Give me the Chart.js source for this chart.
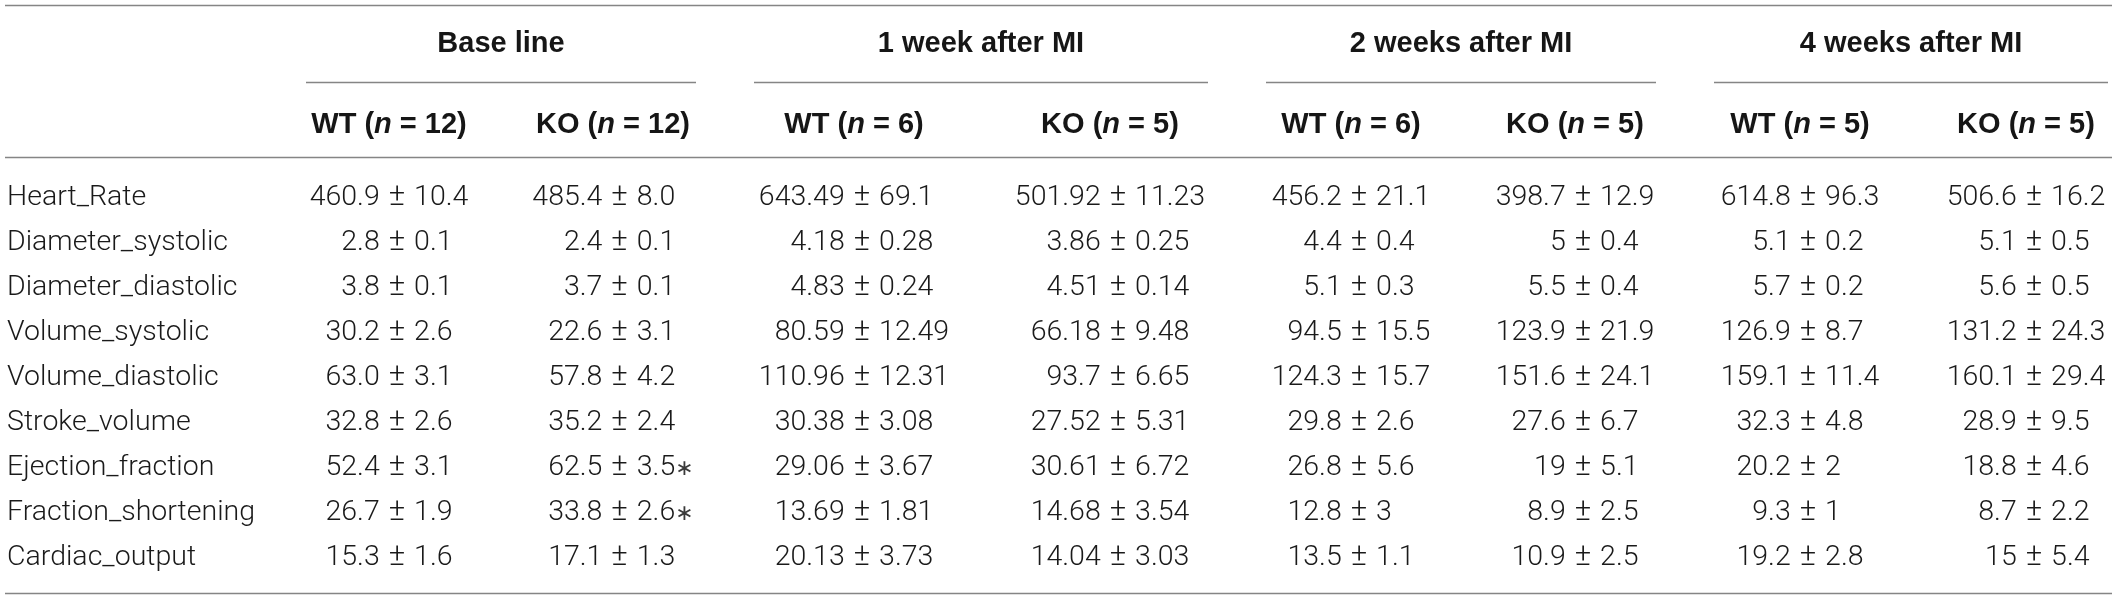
<!DOCTYPE html>
<html>
<head>
<meta charset="utf-8">
<title>Echocardiography WT vs KO after MI</title>
<script src="https://cdn.jsdelivr.net/npm/chart.js@4.4.1/dist/chart.umd.min.js"></script>
<style>
  html, body { margin: 0; padding: 0; background: #fff; }
  #tablechartcontainer { width: 2118px; height: 597px; }
</style>
</head>
<body>
<div id="tablechartcontainer"><canvas id="tablechart" width="2118" height="597"></canvas></div>
<script>
// row and column names
var rowLabels = ["Heart_Rate", "Diameter_systolic", "Diameter_diastolic", "Volume_systolic",
  "Volume_diastolic", "Stroke_volume", "Ejection_fraction", "Fraction_shortening", "Cardiac_output"];
var periods = ["Base line", "1 week after MI", "2 weeks after MI", "4 weeks after MI"];
var genotypes = ["WT", "KO"];
var nWT = [12, 6, 6, 5];
var nKO = [12, 5, 5, 5];

// mean and sd per column (kept as text so trailing zeros survive)
var baseWTMean = ["460.9", "2.8", "3.8", "30.2", "63.0", "32.8", "52.4", "26.7", "15.3"];
var baseWTSd   = ["10.4", "0.1", "0.1", "2.6", "3.1", "2.6", "3.1", "1.9", "1.6"];
var baseKOMean = ["485.4", "2.4", "3.7", "22.6", "57.8", "35.2", "62.5", "33.8", "17.1"];
var baseKOSd   = ["8.0", "0.1", "0.1", "3.1", "4.2", "2.4", "3.5", "2.6", "1.3"];
var baseKOSig  = ["", "", "", "", "", "", "\u2217", "\u2217", ""];

var wk1WTMean = ["643.49", "4.18", "4.83", "80.59", "110.96", "30.38", "29.06", "13.69", "20.13"];
var wk1WTSd   = ["69.1", "0.28", "0.24", "12.49", "12.31", "3.08", "3.67", "1.81", "3.73"];
var wk1KOMean = ["501.92", "3.86", "4.51", "66.18", "93.7", "27.52", "30.61", "14.68", "14.04"];
var wk1KOSd   = ["11.23", "0.25", "0.14", "9.48", "6.65", "5.31", "6.72", "3.54", "3.03"];

var wk2WTMean = ["456.2", "4.4", "5.1", "94.5", "124.3", "29.8", "26.8", "12.8", "13.5"];
var wk2WTSd   = ["21.1", "0.4", "0.3", "15.5", "15.7", "2.6", "5.6", "3", "1.1"];
var wk2KOMean = ["398.7", "5", "5.5", "123.9", "151.6", "27.6", "19", "8.9", "10.9"];
var wk2KOSd   = ["12.9", "0.4", "0.4", "21.9", "24.1", "6.7", "5.1", "2.5", "2.5"];

var wk4WTMean = ["614.8", "5.1", "5.7", "126.9", "159.1", "32.3", "20.2", "9.3", "19.2"];
var wk4WTSd   = ["96.3", "0.2", "0.2", "8.7", "11.4", "4.8", "2", "1", "2.8"];
var wk4KOMean = ["506.6", "5.1", "5.6", "131.2", "160.1", "28.9", "18.8", "8.7", "15"];
var wk4KOSd   = ["16.2", "0.5", "0.5", "24.3", "29.4", "9.5", "4.6", "2.2", "5.4"];

var columns = [
  { mean: baseWTMean, sd: baseWTSd, sig: null },
  { mean: baseKOMean, sd: baseKOSd, sig: baseKOSig },
  { mean: wk1WTMean, sd: wk1WTSd, sig: null },
  { mean: wk1KOMean, sd: wk1KOSd, sig: null },
  { mean: wk2WTMean, sd: wk2WTSd, sig: null },
  { mean: wk2KOMean, sd: wk2KOSd, sig: null },
  { mean: wk4WTMean, sd: wk4WTSd, sig: null },
  { mean: wk4KOMean, sd: wk4KOSd, sig: null }
];

// layout: column widths (label column first) in table units, row positions in row units
var colWidths = [277, 224, 224, 258, 254, 228, 220, 230, 222];
var tableWidth = 2118;
var ruleLeft = 5, ruleRight = 2112, groupInset = 29;
var rowPos = { top: -4.5556, bottom: 8.7111, groupTitle: -3.4, nTitle: -1.6,
  ruleTop: -4.444, ruleGroup: -2.733, ruleHead: -1.0667, ruleBottom: 8.622 };

var colEdges = [0];
colWidths.forEach(function(w, i) { colEdges.push(colEdges[i] + w); });
var colCenters = [];
for (var c = 1; c < colWidths.length; c++) colCenters.push((colEdges[c] + colEdges[c + 1]) / 2);

var dataFont = "300 28.5px Roboto, 'Liberation Sans', Arial, sans-serif";
var pmFont = "300 31px Roboto, 'Liberation Sans', Arial, sans-serif";
var sigFont = "22px 'DejaVu Sans', sans-serif";
var headFont = "bold 29px 'Liberation Sans', Arial, sans-serif";
var headItalic = "italic bold 29px 'Liberation Sans', Arial, sans-serif";
var pmGap = 9;

var tableplugin = {
  id: "tabletext",
  afterDatasetsDraw: function(chart) {
    var ctx = chart.ctx, xs = chart.scales.x, ys = chart.scales.y;
    ctx.save();

    // horizontal rules
    ctx.strokeStyle = "#858585";
    ctx.lineWidth = 1.3;
    function rule(x0, x1, r) {
      var y = Math.round(ys.getPixelForValue(r)) + 0.5;
      ctx.beginPath();
      ctx.moveTo(xs.getPixelForValue(x0), y);
      ctx.lineTo(xs.getPixelForValue(x1), y);
      ctx.stroke();
    }
    rule(ruleLeft, ruleRight, rowPos.ruleTop);
    rule(ruleLeft, ruleRight, rowPos.ruleHead);
    rule(ruleLeft, ruleRight, rowPos.ruleBottom);
    periods.forEach(function(p, g) {
      var gl = colEdges[1 + g * 2], gr = colEdges[3 + g * 2];
      rule(gl + groupInset, Math.min(gr - groupInset, ruleRight), rowPos.ruleGroup);
    });

    // header text
    ctx.fillStyle = "#161616";
    ctx.textBaseline = "alphabetic";
    ctx.font = headFont;
    ctx.textAlign = "center";
    periods.forEach(function(p, g) {
      var cx = (colEdges[1 + g * 2] + colEdges[3 + g * 2]) / 2;
      ctx.fillText(p, xs.getPixelForValue(cx), ys.getPixelForValue(rowPos.groupTitle));
    });
    ctx.textAlign = "left";
    colCenters.forEach(function(cx, k) {
      var g = Math.floor(k / 2), geno = genotypes[k % 2];
      var n = (k % 2 === 0 ? nWT : nKO)[g];
      var parts = [[geno + " (", headFont], ["n", headItalic], [" = " + n + ")", headFont]];
      var total = 0;
      parts.forEach(function(pt) { ctx.font = pt[1]; total += ctx.measureText(pt[0]).width; });
      var x = xs.getPixelForValue(cx) - total / 2, y = ys.getPixelForValue(rowPos.nTitle);
      parts.forEach(function(pt) {
        ctx.font = pt[1];
        ctx.fillText(pt[0], x, y);
        x += ctx.measureText(pt[0]).width;
      });
    });

    // row labels
    ctx.font = dataFont;
    ctx.fillStyle = "#1a1a1a";
    rowLabels.forEach(function(lab, i) {
      ctx.fillText(lab, xs.getPixelForValue(colEdges[0] + 7), ys.getPixelForValue(i));
    });

    // cells, aligned on the plus-minus sign
    ctx.font = pmFont;
    var pmW = ctx.measureText("\u00b1").width;
    ctx.font = sigFont;
    var sigW = ctx.measureText("\u2217").width;
    ctx.font = dataFont;
    chart.data.datasets.forEach(function(ds, k) {
      var col = columns[k], meta = chart.getDatasetMeta(k);
      var leftW = 0, rightW = 0;
      col.mean.forEach(function(m, i) {
        leftW = Math.max(leftW, ctx.measureText(m).width);
        var w = ctx.measureText(col.sd[i]).width + (col.sig && col.sig[i] ? sigW : 0);
        rightW = Math.max(rightW, w);
      });
      var block = leftW + pmGap + pmW + pmGap + rightW;
      meta.data.forEach(function(pt, i) {
        var pmX = pt.x - block / 2 + leftW + pmGap;
        var sdX = pmX + pmW + pmGap;
        ctx.textAlign = "right";
        ctx.fillText(col.mean[i], pmX - pmGap, pt.y);
        ctx.textAlign = "left";
        ctx.font = pmFont;
        ctx.fillText("\u00b1", pmX, pt.y);
        ctx.font = dataFont;
        ctx.fillText(col.sd[i], sdX, pt.y);
        if (col.sig && col.sig[i]) {
          var sx = sdX + ctx.measureText(col.sd[i]).width;
          ctx.font = sigFont;
          ctx.fillStyle = "#3a3a3a";
          ctx.fillText(col.sig[i], sx, pt.y);
          ctx.fillStyle = "#1a1a1a";
          ctx.font = dataFont;
        }
      });
    });
    ctx.restore();
  }
};

var cellsets = columns.map(function(col, k) {
  return {
    label: genotypes[k % 2] + " " + periods[Math.floor(k / 2)],
    data: col.mean.map(function(m, i) { return { x: colCenters[k], y: i }; }),
    pointRadius: 0,
    showLine: false
  };
});

var ctxt = document.getElementById("tablechart").getContext("2d");
var tablechart = new Chart(ctxt, {
  type: "scatter",
  data: { datasets: cellsets },
  options: {
    responsive: false,
    animation: false,
    devicePixelRatio: 1,
    layout: { padding: 0 },
    events: [],
    plugins: { legend: { display: false }, tooltip: { enabled: false } },
    scales: {
      x: { type: "linear", display: false, min: 0, max: tableWidth },
      y: { type: "linear", display: false, reverse: true, min: rowPos.top, max: rowPos.bottom }
    }
  },
  plugins: [tableplugin]
});
</script>
</body>
</html>
